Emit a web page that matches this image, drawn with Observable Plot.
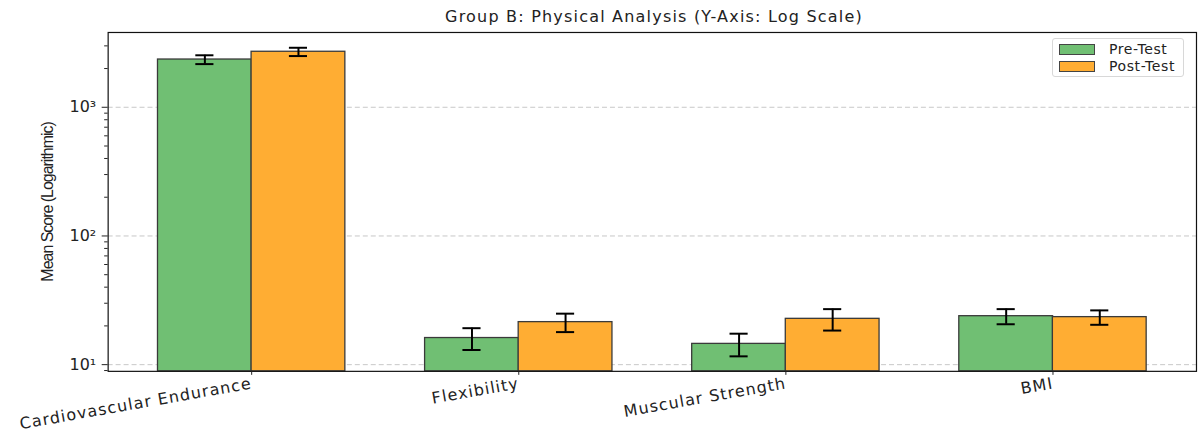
<!DOCTYPE html>
<html>
<head>
<meta charset="utf-8">
<script src="https://cdn.jsdelivr.net/npm/d3@7"></script>
<script src="https://cdn.jsdelivr.net/npm/@observablehq/plot@0.6"></script>
<style>
  html, body { margin: 0; padding: 0; background: #fff; overflow: hidden; width: 1198px; height: 438px; }
  #wrap { position: relative; width: 1198px; height: 438px; }
  #title { box-sizing: border-box; height: 28px; padding-top: 9px; margin-left: 108px; width: 1092px; font: 16px/16px "DejaVu Sans", sans-serif; letter-spacing: 1.2px; color: #222; text-align: center; white-space: nowrap; }
  #legend { position: absolute; left: 1052px; top: 38px; width: 132px; height: 39px; box-sizing: border-box; border: 1px solid #d8d8d8; border-radius: 3px; background: rgba(255,255,255,0.85); font: 14px "DejaVu Sans", sans-serif; letter-spacing: 0.6px; color: #222; }
  .item { position: absolute; left: 6px; height: 14px; display: flex; align-items: center; }
  .sw { width: 34px; height: 9px; border: 1px solid #444; margin-right: 14px; }
</style>
</head>
<body>
<div id="wrap">
  <div id="title">Group B: Physical Analysis (Y-Axis: Log Scale)</div>
  <div id="chart"></div>
  <div id="legend"></div>
</div>
<script>
const categories = ["Cardiovascular Endurance", "Flexibility", "Muscular Strength", "BMI"];
const seriesNames = ["Pre-Test", "Post-Test"];
const seriesColors = ["#70BF73", "#FFAD33"];
const preMean = [2350, 16.1, 14.5, 23.8];
const preErr = [185, 3.1, 2.9, 3.2];
const postMean = [2700, 21.4, 22.7, 23.4];
const postErr = [200, 3.5, 4.3, 3.0];
const majorTicks = [10, 100, 1000];
const minorTicks = [9, 20, 30, 40, 50, 60, 70, 80, 90, 200, 300, 400, 500, 600, 700, 800, 900, 2000, 3000];
const yDomain = [8.87, 3812];
const yLabel = "Mean Score (Logarithmic)";

const sup = {"0":"⁰","1":"¹","2":"²","3":"³","4":"⁴","5":"⁵","6":"⁶","7":"⁷","8":"⁸","9":"⁹"};
const fmt = d => "10" + String(Math.round(Math.log10(d))).split("").map(c => sup[c]).join("");

const pre = categories.map((c, i) => ({cat: c, mean: preMean[i], lo: preMean[i] - preErr[i], hi: preMean[i] + preErr[i]}));
const post = categories.map((c, i) => ({cat: c, mean: postMean[i], lo: postMean[i] - postErr[i], hi: postMean[i] + postErr[i]}));

const width = 1202, marginLeft = 108, marginRight = 2;
const padIn = 0.3, padOut = 0.185;
const step = (width - marginLeft - marginRight) / (categories.length - padIn + 2 * padOut);
const bw = step * (1 - padIn);
const half = bw / 2, q = bw / 4, cap = 9;
const font = "'DejaVu Sans', sans-serif";
const barStyle = {stroke: "#3a3a3a", strokeWidth: 1.3};

const chart = Plot.plot({
  width, height: 410,
  marginLeft, marginRight, marginTop: 4, marginBottom: 66,
  style: {fontFamily: font, background: "#fff", color: "#222"},
  x: {domain: categories, paddingInner: padIn, paddingOuter: padOut, align: 0.5, label: null},
  y: {type: "log", domain: yDomain, label: null},
  marks: [
    Plot.gridY(majorTicks, {stroke: "#c8c8c8", strokeOpacity: 1, strokeDasharray: "5,3"}),
    Plot.barY(pre, {x: "cat", y1: yDomain[0], y2: "mean", fill: seriesColors[0], insetRight: half, ...barStyle}),
    Plot.barY(post, {x: "cat", y1: yDomain[0], y2: "mean", fill: seriesColors[1], insetLeft: half, ...barStyle}),
    Plot.ruleX(pre, {x: "cat", y1: "lo", y2: "hi", dx: -q, stroke: "#000", strokeWidth: 2}),
    Plot.ruleX(post, {x: "cat", y1: "lo", y2: "hi", dx: q, stroke: "#000", strokeWidth: 2}),
    Plot.tickY(pre, {x: "cat", y: "hi", dx: -q, insetLeft: half - cap, insetRight: half - cap, stroke: "#000", strokeWidth: 2}),
    Plot.tickY(pre, {x: "cat", y: "lo", dx: -q, insetLeft: half - cap, insetRight: half - cap, stroke: "#000", strokeWidth: 2}),
    Plot.tickY(post, {x: "cat", y: "hi", dx: q, insetLeft: half - cap, insetRight: half - cap, stroke: "#000", strokeWidth: 2}),
    Plot.tickY(post, {x: "cat", y: "lo", dx: q, insetLeft: half - cap, insetRight: half - cap, stroke: "#000", strokeWidth: 2}),
    Plot.frame({stroke: "#111", strokeWidth: 1.2}),
    Plot.axisY(majorTicks, {tickFormat: fmt, tickSize: 6, tickPadding: 6, fontSize: 16, label: null}),
    Plot.axisY(minorTicks, {tickFormat: () => "", tickSize: 3.5, label: null}),
    Plot.axisX({tickRotate: -10, fontSize: 16, tickSize: 4, tickPadding: 8, label: null}),
    Plot.text([yLabel], {frameAnchor: "left", textAnchor: "middle", rotate: -90, dx: -60, fontSize: 16, fontFamily: "'Liberation Sans Narrow', 'Liberation Sans', sans-serif", fill: "#222"})
  ]
});
document.getElementById("chart").appendChild(chart);

// letter spacing tweaks to approximate the reference's wide / narrow faces
chart.querySelectorAll("text").forEach(t => {
  const s = t.textContent;
  if (categories.includes(s)) t.setAttribute("letter-spacing", "1.1");
  if (s === yLabel) t.setAttribute("letter-spacing", "-1");
});

const legend = document.getElementById("legend");
seriesNames.forEach((name, i) => {
  const item = document.createElement("div");
  item.className = "item";
  item.style.top = (3 + i * 17) + "px";
  const sw = document.createElement("div");
  sw.className = "sw";
  sw.style.background = seriesColors[i];
  item.appendChild(sw);
  const t = document.createElement("span");
  t.textContent = name;
  item.appendChild(t);
  legend.appendChild(item);
});
</script>
</body>
</html>
